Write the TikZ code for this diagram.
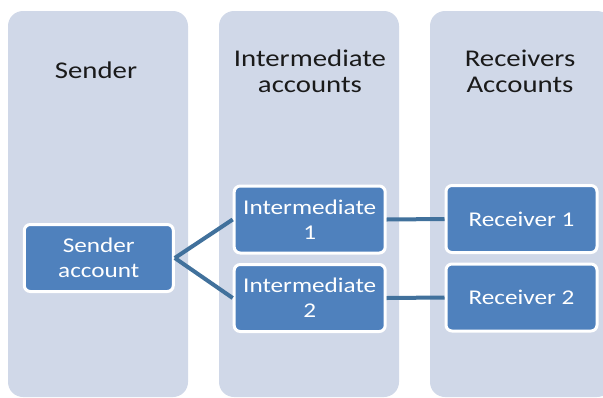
\documentclass[tikz,border=0pt]{standalone}
\usepackage{fontspec}
\setmainfont{Carlito}[FakeStretch=1.2]
\definecolor{panel}{HTML}{D0D8E8}
\definecolor{boxblue}{HTML}{4F81BD}
\definecolor{linkblue}{HTML}{41719C}
\definecolor{headtxt}{HTML}{1A1A1A}
\begin{document}
\begin{tikzpicture}[x=1pt,y=-1pt,
  panelbox/.style={fill=panel,draw=none,rounded corners=15pt},
  heading/.style={text=headtxt,align=center,font=\fontsize{24}{26}\selectfont,inner sep=0pt},
  acct/.style={draw=white,line width=3pt,fill=boxblue,rounded corners=6pt,
    minimum width=151pt,minimum height=67pt,text=white,align=center,
    font=\fontsize{21}{25}\selectfont,inner sep=0pt},
  link/.style={draw=linkblue,line width=4pt}]
\useasboundingbox (0,0) rectangle (603,397);
% panels
\fill[panelbox] (8,11) rectangle (188,397);
\fill[panelbox] (219,11) rectangle (399,397);
\fill[panelbox] (430,11) rectangle (612,397);
% headings
\node[heading] (h1) at (96,70) {Sender};
\node[heading] (h2) at (310,71) {Intermediate\\accounts};
\node[heading] (h3) at (520,71) {Receivers\\Accounts};
% boxes
\node[acct,minimum width=149pt] (s) at (98.8,258) {Sender\\account};
\node[acct] (i1) at (309.7,219.5) {Intermediate\\1};
\node[acct] (i2) at (309.7,298) {Intermediate\\2};
\node[acct] (r1) at (521.5,219) {Receiver 1};
\node[acct] (r2) at (521.5,297.5) {Receiver 2};
% connectors
\draw[link] (s.east) -- (i1.west);
\draw[link] (s.east) -- (i2.west);
\draw[link] (i1.east) -- (r1.west);
\draw[link] (i2.east) -- (r2.west);
\end{tikzpicture}
\end{document}
